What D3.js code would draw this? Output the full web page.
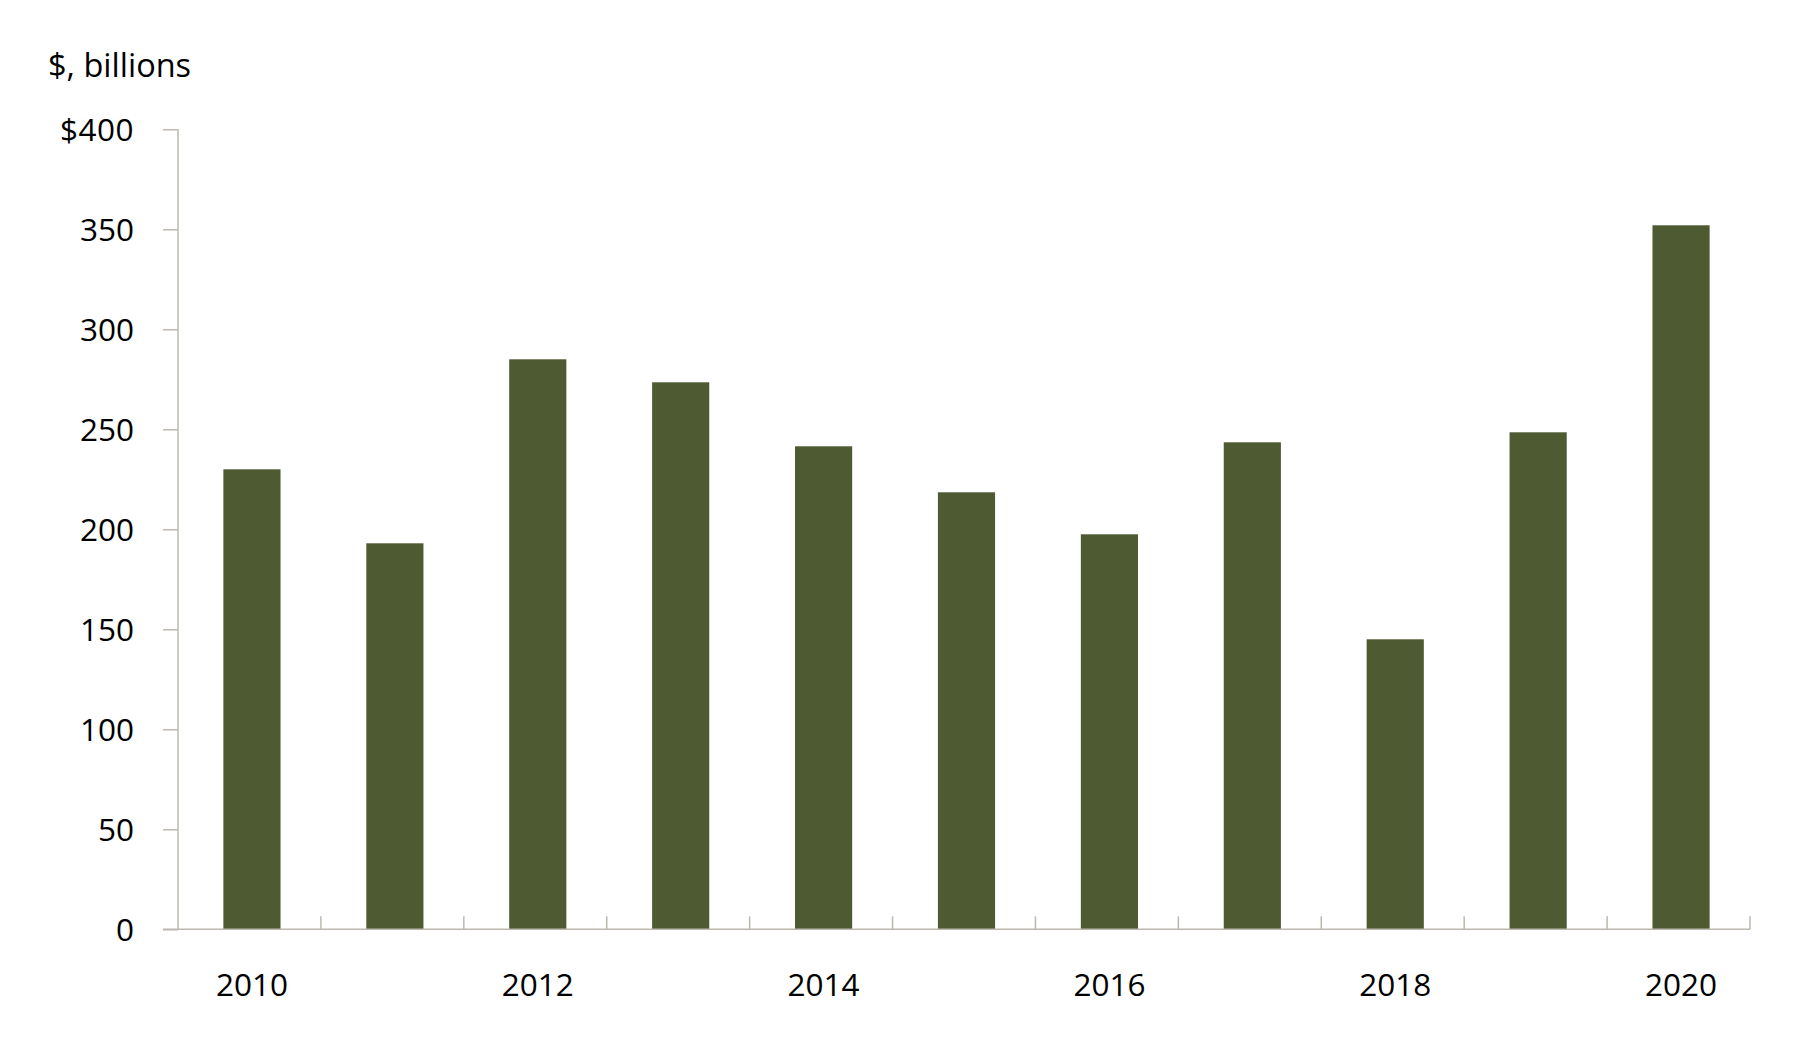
<!DOCTYPE html>
<html>
<head>
<meta charset="utf-8">
<script src="https://cdn.jsdelivr.net/npm/d3@7"></script>
<style>
  html, body { margin: 0; padding: 0; background: #fff; }
  svg { display: block; }
  text { font-family: "Open Sans", "Noto Sans", sans-serif; fill: #000; }
</style>
</head>
<body>
<svg id="chart" width="1800" height="1045"></svg>
<script>
const years = [2010, 2011, 2012, 2013, 2014, 2015, 2016, 2017, 2018, 2019, 2020];
const values = [230, 193, 285, 273.5, 241.5, 218.5, 197.5, 243.5, 145, 248.5, 352];
const yTicks = [0, 50, 100, 150, 200, 250, 300, 350, 400];
const xLabelYears = [2010, 2012, 2014, 2016, 2018, 2020];
const unitLabel = "$, billions";

const svg = d3.select("#chart");
const axisColor = "#BDB8AF";
const barColor = "#4E5A32";
const fontSize = 31.5;

const plotLeft = 178, plotRight = 1750, plotTop = 129.3, plotBottom = 929.3;

const y = d3.scaleLinear().domain([0, 400]).range([plotBottom, plotTop]);
const xCat = d3.scaleBand().domain(years).range([plotLeft, plotRight]).padding(0);
const step = xCat.step();
const barW = step * 0.4;
const barOffset = 2.5;
const barX = d => xCat(d) + (step - barW) / 2 + barOffset;
const barCenter = d => barX(d) + barW / 2;

// Bars
svg.append("g").selectAll("rect")
  .data(years.map((yr, i) => ({ yr, v: values[i] })))
  .join("rect")
  .attr("x", d => barX(d.yr))
  .attr("y", d => y(d.v))
  .attr("width", barW)
  .attr("height", d => y(0) - y(d.v))
  .attr("fill", barColor);

// Y axis
const yAxis = d3.axisLeft(y)
  .tickValues(yTicks)
  .tickSize(15)
  .tickPadding(29)
  .tickFormat(d => d === 400 ? "$" + d : String(d));
const gy = svg.append("g").attr("transform", `translate(${plotLeft},0)`).call(yAxis);
gy.select(".domain").remove();
gy.selectAll(".tick line").attr("stroke", axisColor).attr("stroke-width", 1.5);
gy.selectAll(".tick text")
  .attr("font-size", fontSize)
  .attr("font-family", '"Open Sans", "Noto Sans", sans-serif')
  .attr("fill", "#000")
  .attr("dy", "0.34em");
gy.selectAll(".tick text").filter(d => d === 400).attr("letter-spacing", "0.5px");
svg.append("line")
  .attr("x1", plotLeft).attr("x2", plotLeft)
  .attr("y1", y(400)).attr("y2", y(0))
  .attr("stroke", axisColor).attr("stroke-width", 1.5);

// X axis baseline
svg.append("line")
  .attr("x1", plotLeft - 15).attr("x2", plotRight)
  .attr("y1", y(0)).attr("y2", y(0))
  .attr("stroke", axisColor).attr("stroke-width", 1.5);

// X boundary ticks (between categories + right end)
const boundaries = years.slice(1).map(d => xCat(d)).concat([plotRight]);
svg.append("g").selectAll("line")
  .data(boundaries)
  .join("line")
  .attr("x1", d => d).attr("x2", d => d)
  .attr("y1", y(0)).attr("y2", y(0) - 13)
  .attr("stroke", axisColor).attr("stroke-width", 1.5);

// X labels
svg.append("g").selectAll("text")
  .data(xLabelYears)
  .join("text")
  .attr("x", d => barCenter(d))
  .attr("y", 996)
  .attr("text-anchor", "middle")
  .attr("font-size", fontSize)
  .text(d => d);

// Unit label
svg.append("text")
  .attr("x", 48)
  .attr("y", 77)
  .attr("font-size", 32.5)
  .text(unitLabel);
</script>
</body>
</html>
